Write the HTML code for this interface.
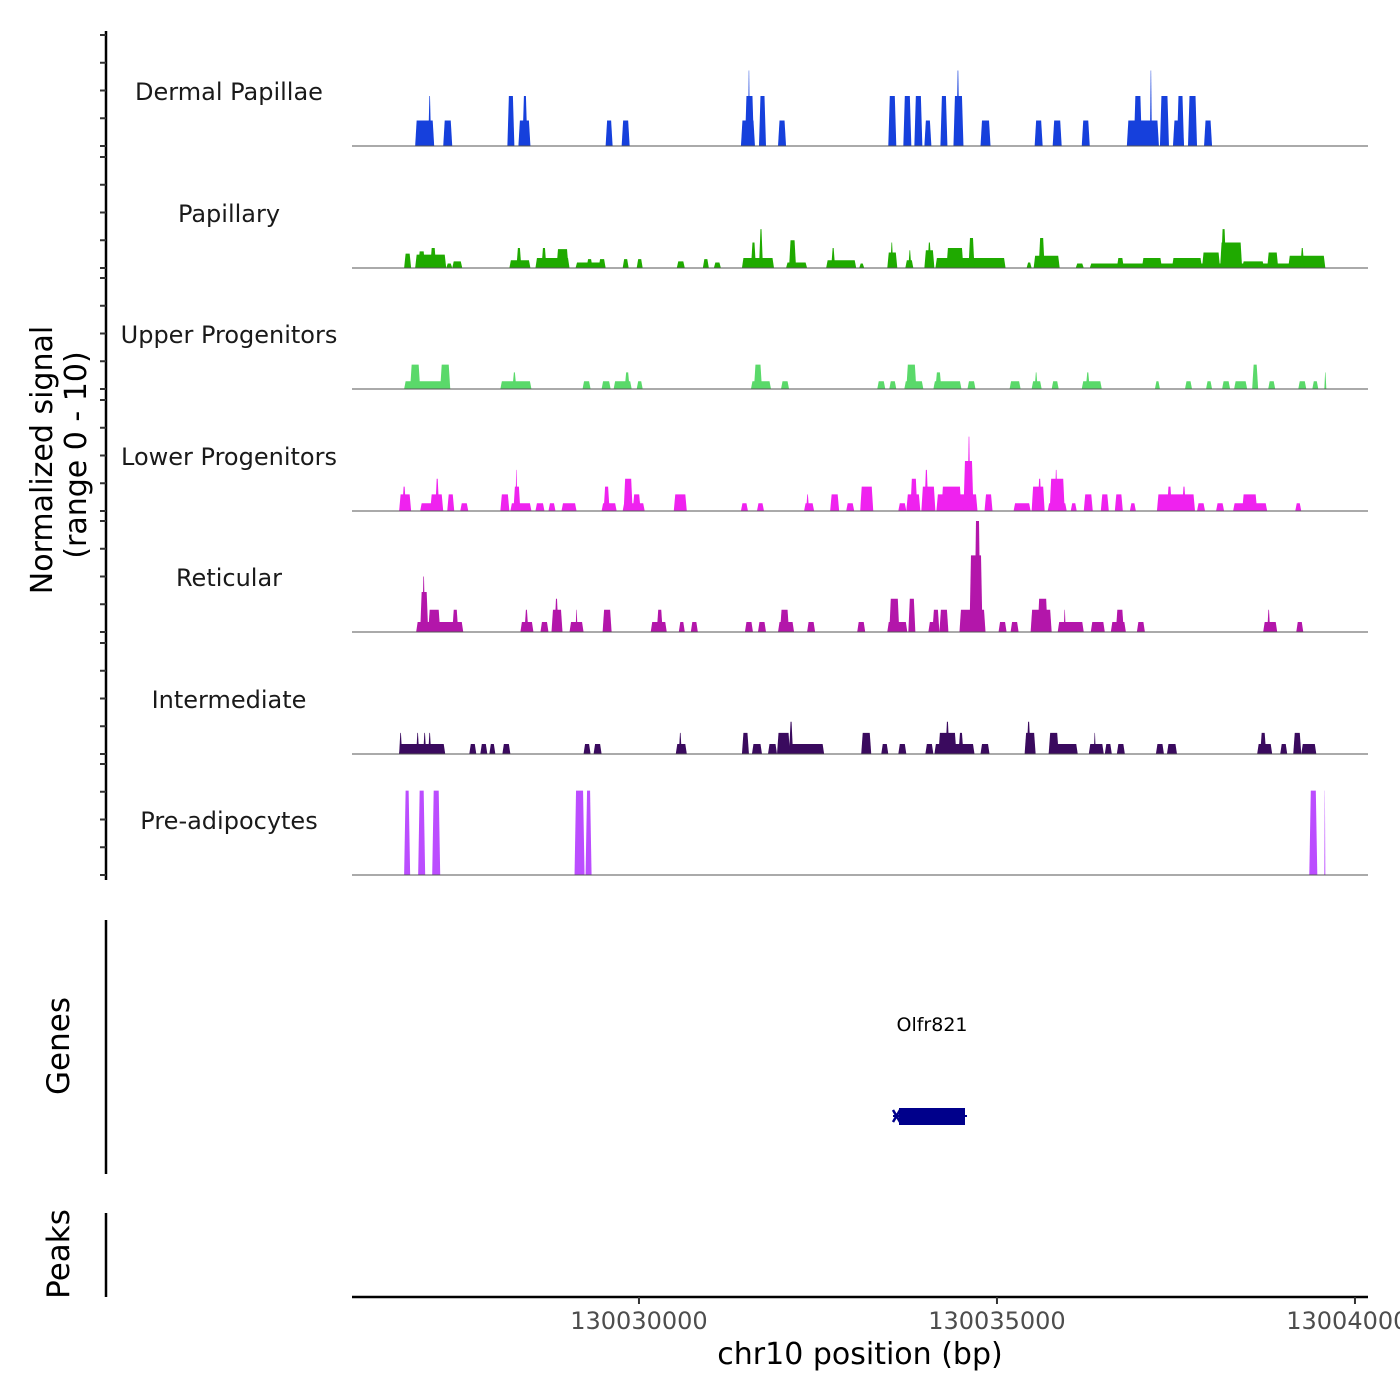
<!DOCTYPE html>
<html><head><meta charset="utf-8">
<style>
html,body{margin:0;padding:0;background:#fff;}
svg{display:block;}
text{font-family:"DejaVu Sans","Liberation Sans",sans-serif;}
</style></head>
<body>
<svg id="chart" width="1400" height="1400" viewBox="0 0 1400 1400" xmlns="http://www.w3.org/2000/svg">
  <g id="tracks"></g>
  <g id="yaxis">
    <line x1="106" y1="31" x2="106" y2="880" stroke="#000" stroke-width="2.5"/>
  </g>
  <text transform="translate(52,460) rotate(-90)" text-anchor="middle" font-size="30">Normalized signal</text>
  <text transform="translate(86,455) rotate(-90)" text-anchor="middle" font-size="30">(range 0 - 10)</text>

  <g>
    <line x1="106" y1="920" x2="106" y2="1174" stroke="#000" stroke-width="2.5"/>
    <text transform="translate(69,1046) rotate(-90)" text-anchor="middle" font-size="31">Genes</text>
    <text x="932" y="1031" text-anchor="middle" font-size="19">Olfr821</text>
    <line x1="893" y1="1116" x2="967" y2="1116" stroke="#00008b" stroke-width="2"/>
    <rect x="899" y="1108" width="66" height="17" fill="#00008b"/>
    <path d="M893 1110 L900 1122 M900 1110 L893 1122" stroke="#00008b" stroke-width="2.5" fill="none"/>
  </g>

  <g>
    <line x1="106" y1="1213" x2="106" y2="1297" stroke="#000" stroke-width="2.5"/>
    <text transform="translate(69,1254) rotate(-90)" text-anchor="middle" font-size="31">Peaks</text>
  </g>

  <g id="xaxis">
    <line x1="352" y1="1297" x2="1368" y2="1297" stroke="#000" stroke-width="2.5"/>
  </g>
  <text x="860" y="1364" text-anchor="middle" font-size="30">chr10 position (bp)</text>
</svg>
<script>
// region & scales
const REGION_START = 130025992;
const REGION_END = 130040182;
const X0 = 352, X1 = 1368;
const PX_PER_UNIT = 11.1;
const xTicks = [130030000, 130035000, 130040000];
const xTickLabels = ["130030000", "130035000", "130040000"];
const trackNames = ["Dermal Papillae","Papillary","Upper Progenitors","Lower Progenitors","Reticular","Intermediate","Pre-adipocytes"];
const trackColors = ["#1640dc","#1faa00","#5ad96a","#ef22ef","#b316aa","#3a0a5e","#bb4dff"];
const trackBaselines = [146, 268, 389, 511, 632, 754, 875];

// segments: start / end offsets (bp from REGION_START) and signal values
const dermalStarts = [882,1064,1274,2170,2324,2380,3542,3766,5432,5488,5530,5684,5950,7490,7700,7854,7994,8218,8400,8442,8778,9534,9786,10192,10822,10920,11144,11284,11466,11522,11676,11900];
const dermalEnds   = [1148,1106,1400,2268,2492,2450,3640,3878,5628,5614,5558,5782,6062,7602,7812,7966,8092,8316,8540,8484,8918,9646,9912,10304,11270,11032,11172,11410,11620,11620,11802,12012];
const dermalValues = [2.3,4.5,2.3,4.5,2.3,4.5,2.3,2.3,2.3,4.5,6.8,4.5,2.3,4.5,4.5,4.5,2.3,4.5,4.5,6.8,2.3,2.3,2.3,2.3,2.3,4.5,6.8,4.5,2.3,4.5,4.5,2.3];

const papStarts = [728,882,1092,924,1316,1400,2198,2296,2562,2646,2856,3122,3276,3444,3780,3976,4536,4900,5054,5446,5572,5684,6062,6104,6622,6692,7084,7476,7518,7728,7770,7994,8036,8148,8302,8610,9422,9520,9590,10108,10304,10682,11032,11452,11872,12124,12138,12432,12782,13076,13244];
const papEnds   = [826,1316,1176,1022,1400,1540,2492,2366,3038,2716,3024,3542,3360,3542,3864,4060,4648,4984,5152,5894,5642,5740,6356,6202,7042,6748,7154,7616,7560,7840,7812,8134,8092,9128,8540,8694,9492,9884,9674,10220,13594,10780,11312,11872,12124,12432,12208,12740,12936,13594,13300];
const papValues = [1.3,1.2,1.8,1.5,0.4,0.6,0.7,1.8,0.9,1.8,1.7,0.5,0.8,0.8,0.8,0.8,0.6,0.8,0.5,0.9,2.3,3.5,0.5,2.5,0.7,1.8,0.4,1.4,2.3,0.7,1.6,1.6,2.3,0.9,1.8,2.7,0.5,1.1,2.7,0.4,0.4,0.9,0.9,0.9,1.4,2.3,3.5,0.6,1.4,1.1,1.8];

const upperStarts = [728,812,1232,2072,2240,3220,3486,3654,3808,3976,5572,5614,5992,7336,7504,7714,7742,8120,8148,8596,9184,9492,9534,9772,10192,10248,11214,11634,11928,12152,12320,12572,12796,13216,13412,13580];
const upperEnds   = [1372,952,1372,2506,2296,3332,3612,3906,3878,4060,5852,5726,6104,7448,7602,7980,7882,8512,8232,8708,9338,9632,9576,9870,10472,10304,11284,11732,12012,12264,12502,12656,12894,13328,13496,13608];
const upperValues = [0.7,2.2,2.2,0.7,1.5,0.7,0.7,0.7,1.5,0.7,0.7,2.2,0.7,0.7,0.7,0.7,2.2,0.7,1.5,0.7,0.7,0.7,1.5,0.7,0.7,1.5,0.7,0.7,0.7,0.7,0.7,2.2,0.7,0.7,0.7,1.5];

const lowerStarts = [658,700,952,1092,1162,1330,1512,2072,2212,2254,2282,2562,2744,2926,3486,3514,3780,3794,3920,4494,5432,5656,6314,6342,6678,6902,7098,7630,7742,7798,7952,7994,8162,8232,8540,8596,8834,9240,9492,9576,9716,9744,9814,10038,10220,10458,10654,10864,11242,11382,11592,11802,12068,12306,12432,13174];
const lowerEnds   = [826,756,1274,1274,1218,1428,1624,2198,2506,2352,2310,2688,2842,3136,3696,3598,4088,3920,4032,4676,5530,5754,6454,6384,6804,7014,7280,7742,7938,7896,8148,8050,8736,8512,8680,8638,8946,9478,9674,9632,9982,9954,9856,10122,10346,10570,10766,10948,11774,11452,11648,11914,12180,12782,12642,13258];
const lowerValues = [1.5,2.2,0.7,1.5,2.9,1.5,0.7,1.5,0.7,2.2,3.7,0.7,0.7,0.7,0.7,2.2,0.7,2.9,1.5,1.5,0.7,0.7,0.7,1.5,1.5,0.7,2.2,0.7,1.5,2.9,2.2,3.7,1.5,2.2,4.5,6.7,1.5,0.7,2.2,2.9,0.7,2.9,3.7,0.7,1.5,1.5,1.5,0.7,1.5,2.2,2.2,0.7,0.7,0.7,1.5,0.7];

const retStarts = [896,952,980,1064,1400,2352,2408,2632,2786,2828,3038,3122,3500,4172,4256,4564,4732,5488,5670,5950,5978,6356,7056,7476,7504,7770,8050,8106,8204,8484,8624,8694,9030,9198,9478,9576,9856,9940,10318,10598,10668,10962,12726,12782,13188];
const retEnds   = [1554,1064,1022,1232,1484,2534,2464,2744,2940,2884,3234,3150,3626,4396,4340,4648,4830,5600,5782,6174,6104,6468,7168,7756,7644,7868,8190,8204,8330,8848,8806,8778,9142,9310,9772,9716,10220,9968,10514,10808,10780,11074,12922,12824,13286];
const retValues = [0.9,3.6,5.0,2.0,2.0,0.9,2.0,0.9,2.0,3.0,0.9,2.0,2.0,0.9,2.0,0.9,0.9,0.9,0.9,0.9,2.0,0.9,0.9,0.9,3.0,3.0,0.9,2.0,2.0,2.0,6.9,10.0,0.9,0.9,2.0,3.0,0.9,2.0,0.9,0.9,2.0,0.9,0.9,2.0,0.9];

const interStarts = [658,658,896,994,1064,1638,1792,1918,2100,3234,3374,4522,4564,5446,5586,5810,5936,6104,6118,7112,7392,7630,8008,8134,8190,8288,8470,8778,9394,9422,9730,9730,10290,10360,10514,10682,11228,11382,12642,12684,12964,13146,13258];
const interEnds   = [1302,700,938,1036,1106,1736,1890,2002,2212,3332,3486,4676,4606,5544,5726,5936,6118,6160,6594,7252,7490,7742,8120,8694,8442,8344,8540,8904,9548,9478,9870,10136,10500,10388,10612,10794,11340,11522,12852,12768,13062,13258,13468];
const interValues = [0.9,1.9,1.9,1.9,1.9,0.9,0.9,0.9,0.9,0.9,0.9,0.9,1.9,1.9,0.9,0.9,1.9,2.9,0.9,1.9,0.9,0.9,0.9,0.9,1.9,2.9,1.9,0.9,1.9,2.9,1.9,0.9,0.9,1.9,0.9,0.9,0.9,0.9,0.9,1.9,0.9,1.9,0.9];

const preStarts = [728,924,1120,3108,3262,13370,13580];
const preEnds   = [812,1022,1232,3248,3346,13482,13594];
const preValues = [7.6,7.6,7.6,7.6,7.6,7.6,7.6];

const trackStarts = [dermalStarts, papStarts, upperStarts, lowerStarts, retStarts, interStarts, preStarts];
const trackEnds = [dermalEnds, papEnds, upperEnds, lowerEnds, retEnds, interEnds, preEnds];
const trackValues = [dermalValues, papValues, upperValues, lowerValues, retValues, interValues, preValues];

const NS = "http://www.w3.org/2000/svg";
function xScale(bp){ return X0 + (bp - REGION_START) / (REGION_END - REGION_START) * (X1 - X0); }
function xOff(off){ return xScale(REGION_START + off); }
function yScale(v, base){ return base - v * PX_PER_UNIT; }
function mk(tag, attrs){ const e = document.createElementNS(NS, tag); for (const k in attrs) e.setAttribute(k, attrs[k]); return e; }

const tracksG = document.getElementById('tracks');
const yAxisG = document.getElementById('yaxis');
trackNames.forEach((name, ti) => {
  const base = trackBaselines[ti];
  const g = mk('g', {});
  
  
  const starts = trackStarts[ti], ends = trackEnds[ti], vals = trackValues[ti];
  for (let i = 0; i < starts.length; i++) {
    const xs = xOff(starts[i]), xe = xOff(ends[i]);
    const w = xe - xs;
    const sl = Math.min(1.5, w / 2.5);
    const yt = yScale(vals[i], base);
    const p = mk('polygon', {points: `${xs},${base} ${xs+sl},${yt} ${xe-sl},${yt} ${xe},${base}`, fill: trackColors[ti]});
    
    
    g.appendChild(p);
  }
  const bl = mk('line', {x1: X0, y1: base, x2: X1, y2: base, stroke: '#555', 'stroke-width': 1});
  
  
  g.appendChild(bl);
  const lab = mk('text', {x: 229, y: base - 46, 'text-anchor': 'middle', 'font-size': 24, fill: '#1a1a1a'});
  
  
  lab.textContent = name;
  g.appendChild(lab);
  tracksG.appendChild(g);
  [0, 2.5, 5, 7.5, 10].forEach(v => {
    const y = base - v * PX_PER_UNIT;
    const t = mk('line', {x1: 100, y1: y, x2: 106, y2: y, stroke: '#333', 'stroke-width': 2});
    
    
    yAxisG.appendChild(t);
  });
});

const xAxisG = document.getElementById('xaxis');
xTicks.forEach((t, i) => {
  const x = xScale(t);
  const tk = mk('line', {x1: x, y1: 1297, x2: x, y2: 1304, stroke: '#333', 'stroke-width': 2});
  
  
  xAxisG.appendChild(tk);
  const lb = mk('text', {x: x, y: 1329, 'text-anchor': 'middle', 'font-size': 24, fill: '#4d4d4d'});
  
  
  lb.textContent = xTickLabels[i];
  xAxisG.appendChild(lb);
});
</script>
</body></html>
